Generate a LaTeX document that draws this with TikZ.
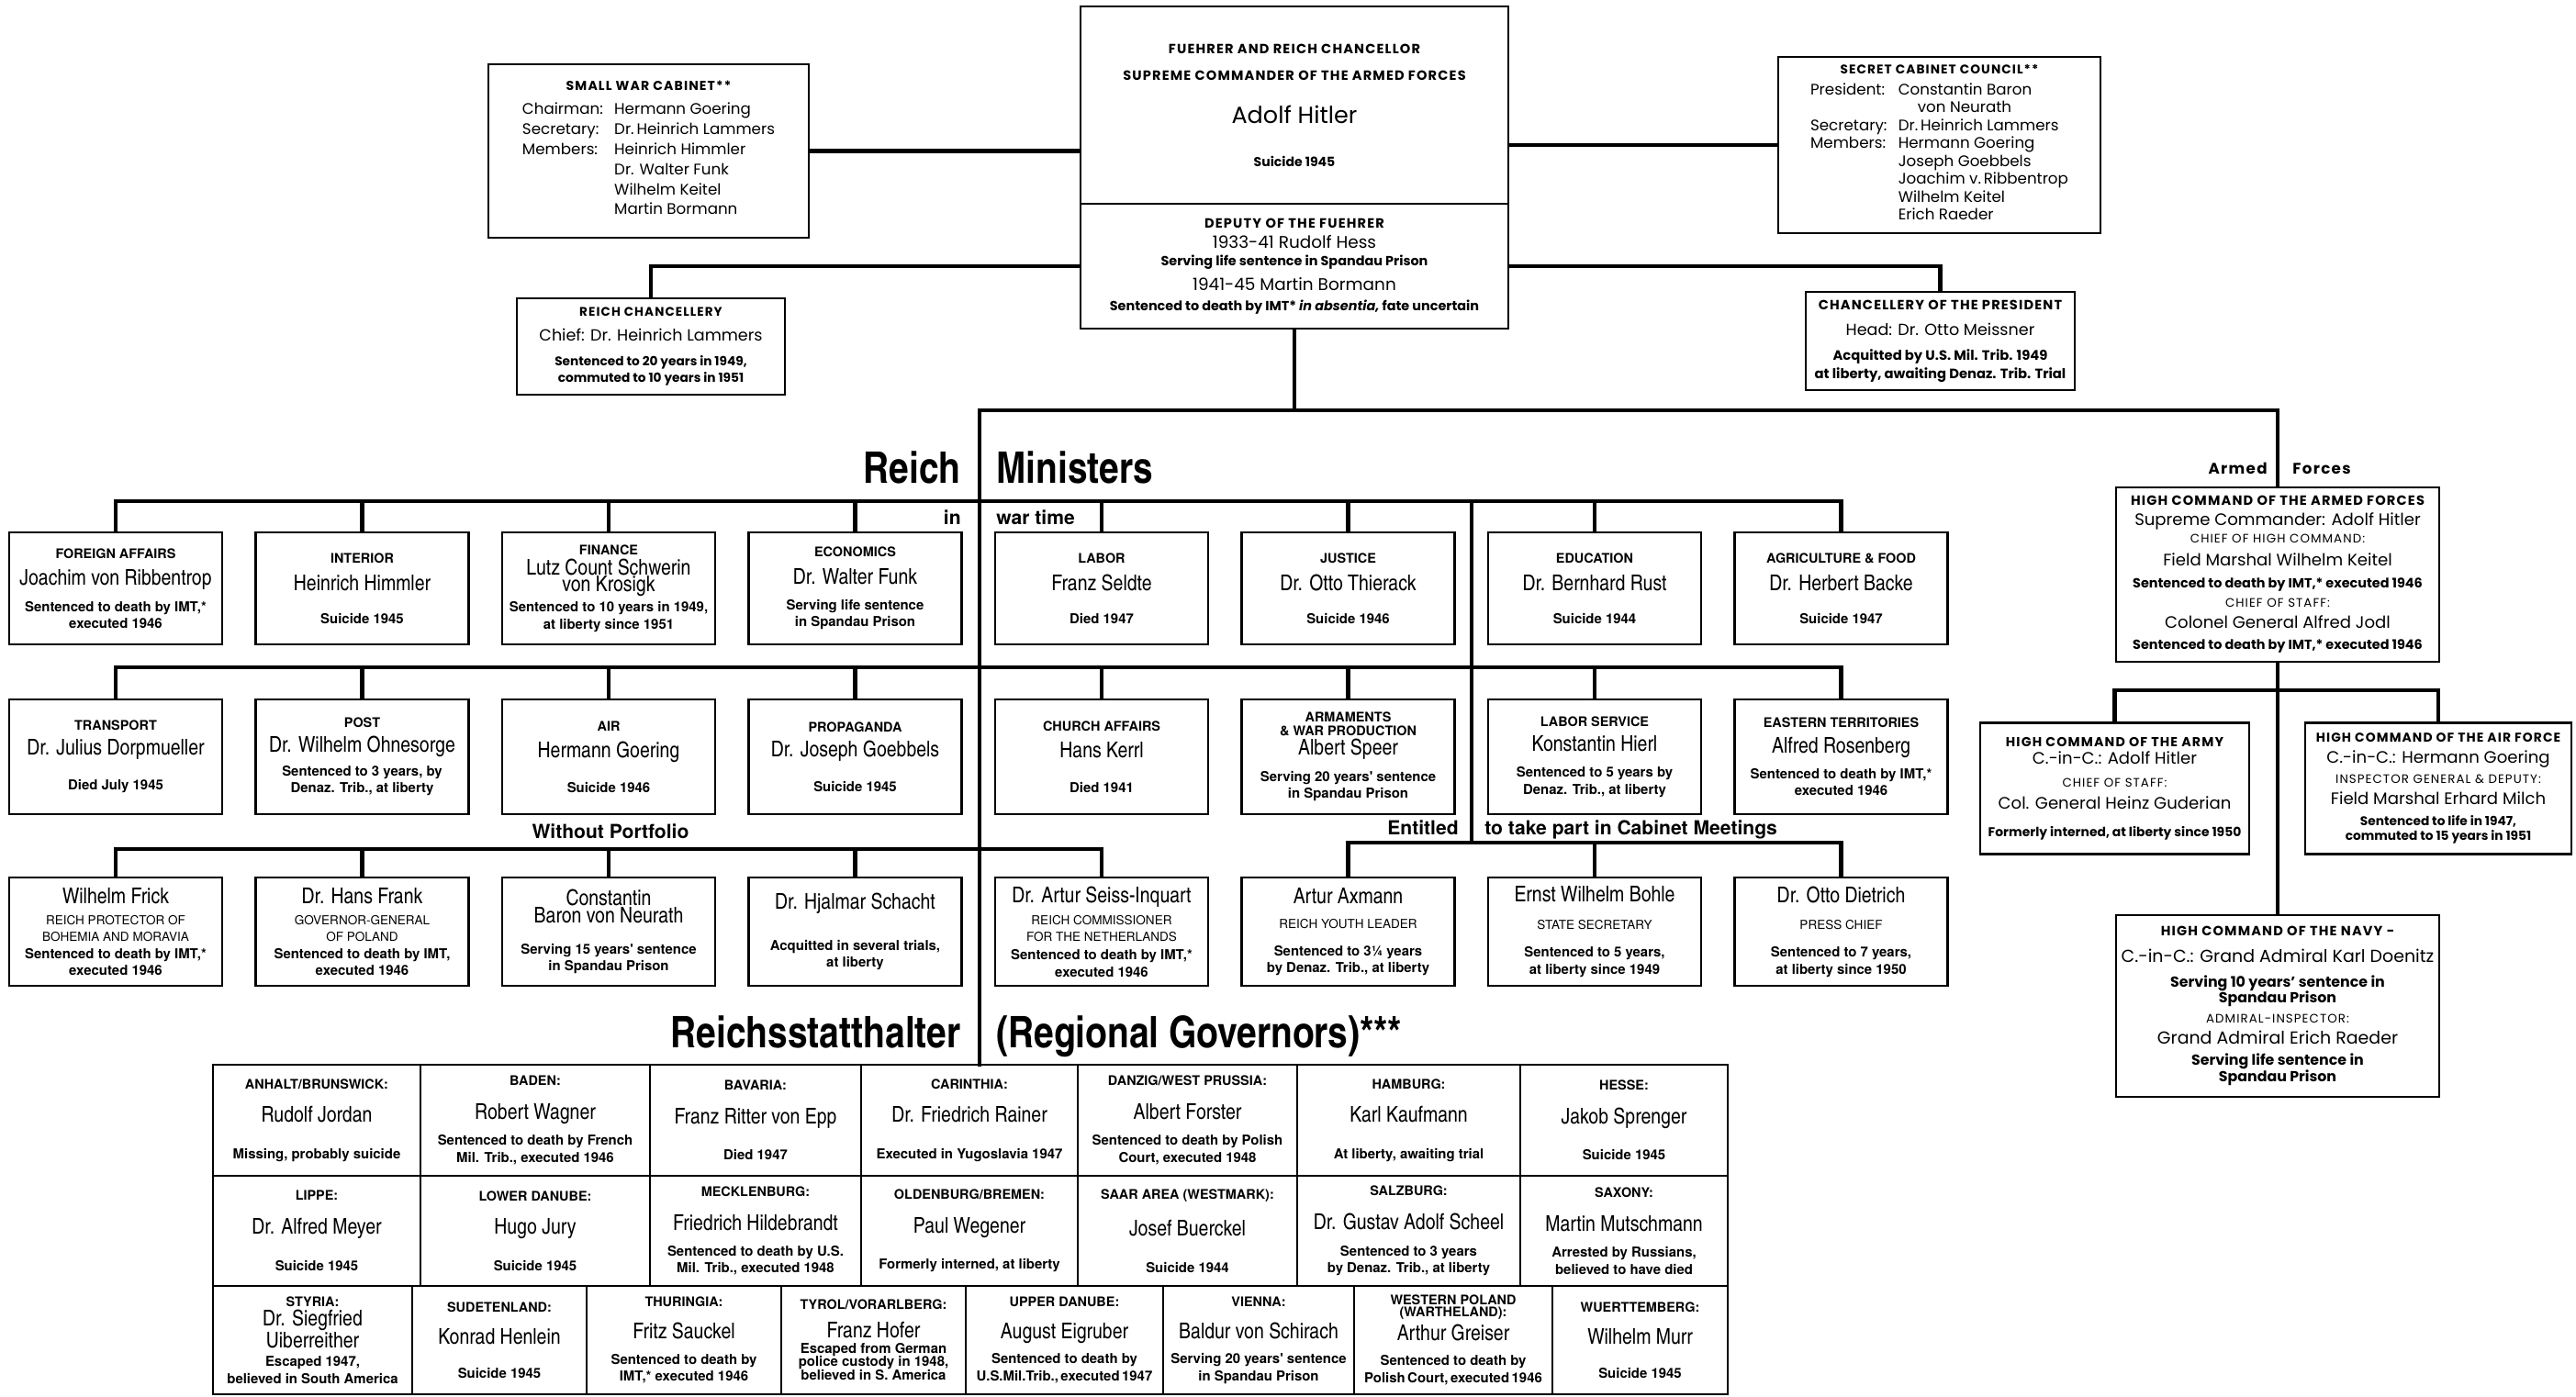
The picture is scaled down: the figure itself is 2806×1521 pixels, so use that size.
\documentclass[tikz,border=0pt]{standalone}
\usepackage{fontspec}
\setmainfont{Poppins}
\newfontfamily\spaced{Poppins}[LetterSpace=8]
\newfontfamily\heros{TeX Gyre Heros}
\newfontfamily\cnd{texgyreheroscn}[Extension=.otf,UprightFont=*-regular,BoldFont=*-bold]

\newcommand{\ahead}[2][8.3]{{\spaced\bfseries\fontsize{#1}{12}\selectfont #2}}
\newcommand{\aname}[2][10.3]{{\fontsize{#1}{12}\selectfont #2}}
\newcommand{\anote}[2][8.2]{{\bfseries\fontsize{#1}{12}\selectfont #2}}
\newcommand{\acaps}[2][7.6]{{\spaced\fontsize{#1}{12}\selectfont #2}}
\newcommand{\mhead}[1]{{\heros\bfseries\fontsize{8.2}{10.5}\selectfont #1}}
\newcommand{\mname}[1]{{\cnd\fontsize{13.5}{10.5}\selectfont #1}}
\newcommand{\mnote}[1]{{\heros\bfseries\fontsize{8.5}{10.5}\selectfont #1}}
\newcommand{\mcaps}[1]{{\heros\fontsize{7.7}{10.5}\selectfont #1}}

\tikzset{
  box/.style={draw, line width=1.2pt, inner sep=0pt, align=center},
  link/.style={line width=2.4pt, line cap=rect},
  topbox/.style={box, font=\fontsize{8}{12}\selectfont},
  minister/.style={box, minimum width=46.4mm, minimum height=#1, font=\heros\fontsize{8}{10.5}\selectfont},
  gov/.style={draw, line width=1.3pt, inner sep=0pt, align=center, minimum height=#1, font=\heros\fontsize{8}{10.5}\selectfont},
  bigtitle/.style={font=\cnd\bfseries\fontsize{27}{29}\selectfont, inner sep=0pt},
  subtitle/.style={font=\heros\bfseries\fontsize{12}{14}\selectfont, inner sep=0pt},
  armlabel/.style={font=\spaced\bfseries\fontsize{9.5}{12}\selectfont, inner sep=0pt}
}

\begin{document}
\begin{tikzpicture}[x=0.2mm, y=-0.2mm]
\useasboundingbox (0,0) rectangle (2806,1521);

\node[topbox, minimum width=93.2mm, minimum height=43mm] (fuehrer) at (1410,114.5) {\ahead{FUEHRER AND REICH CHANCELLOR}\\[4.5pt]\ahead{SUPREME COMMANDER OF THE ARMED FORCES}\\[14.7pt]\aname[14.5]{Adolf Hitler}\\[14.7pt]\anote[8]{Suicide 1945}};
\node[topbox, minimum width=93.2mm, minimum height=27.2mm] (deputy) at (1410,290) {\ahead{DEPUTY OF THE FUEHRER}\\[0.2pt]\aname[10.5]{1933-41 Rudolf Hess}\\[-0.8pt]\anote{Serving life sentence in Spandau Prison}\\[3.3pt]\aname[10.5]{1941-45 Martin Bormann}\\[0.2pt]\anote{Sentenced to death by IMT* \textit{in absentia,} fate uncertain}};

\node[topbox, minimum width=69.8mm, minimum height=37.8mm] (swc) at (706.5,164.5) {\ahead[8]{SMALL WAR CABINET**}\\[2.8pt]
  {\fontsize{9.5}{12.4}\selectfont\begin{tabular}[t]{@{}l@{\hspace{7pt}}l@{}}
  Chairman: & Hermann Goering\\
  Secretary: & Dr.\,Heinrich Lammers\\
  Members: & Heinrich Himmler\\
   & Dr. Walter Funk\\
   & Wilhelm Keitel\\
   & Martin Bormann
  \end{tabular}}};
\node[topbox, minimum width=70.2mm, minimum height=38.4mm] (scc) at (2112.5,158) {\ahead[7.8]{SECRET CABINET COUNCIL**}\\[1pt]
  {\fontsize{9.5}{11.1}\selectfont\begin{tabular}[t]{@{}l@{\hspace{7pt}}l@{}}
  President: & Constantin Baron\\
   & \hspace*{12pt}von Neurath\\
  Secretary: & Dr.\,Heinrich Lammers\\
  Members: & Hermann Goering\\
   & Joseph Goebbels\\
   & Joachim v.\,Ribbentrop\\
   & Wilhelm Keitel\\
   & Erich Raeder
  \end{tabular}}};
\node[topbox, minimum width=58.4mm, minimum height=21mm] (chancellery) at (709,377.5) {\ahead[7.7]{REICH CHANCELLERY}\\[3.3pt]\aname[10]{Chief: Dr. Heinrich Lammers}\\[3.3pt]\anote[7.8]{Sentenced to 20 years in 1949,}\\[-1.8pt]\anote[7.8]{commuted to 10 years in 1951}};
\node[topbox, minimum width=58.6mm, minimum height=21.4mm] (presidency) at (2113.5,371.5) {\ahead{CHANCELLERY OF THE PRESIDENT}\\[4.3pt]\aname[10]{Head: Dr. Otto Meissner}\\[3.3pt]\anote[8.4]{Acquitted by U.S. Mil. Trib. 1949}\\[-0.8pt]\anote[8.4]{at liberty, awaiting Denaz. Trib. Trial}};

\draw[link] (swc.east) -- (swc.east -| fuehrer.west);
\draw[link] (scc.west) -- (scc.west -| fuehrer.east);
\draw[link] (chancellery.north) |- (deputy.west);
\draw[link] (presidency.north) |- (deputy.east);

\coordinate (trunk) at (0,447);
\coordinate (bus1) at (0,546);
\coordinate (bus2) at (0,727);
\coordinate (bus3) at (0,925);
\coordinate (bus4) at (0,918);
\coordinate (afbus) at (0,752);
\coordinate (cab) at (1603,0);
\coordinate (govtop) at (1067,1160);

\node[bigtitle, anchor=base east] (reich) at (1047,526) {Reich};
\node[bigtitle, anchor=base west] (ministers) at (1085,526) {Ministers};
\node[subtitle, anchor=base east] (inlbl) at (1047,571) {in};
\node[subtitle, anchor=base west] (wartime) at (1085,571) {war time};
\node[subtitle, anchor=base] (portfolio) at (665,913) {Without Portfolio};
\node[subtitle, anchor=base east] (entitled) at (1589,909) {Entitled};
\node[subtitle, anchor=base west] (cabinet) at (1617,909) {to take part in Cabinet Meetings};
\node[bigtitle, anchor=base east] (statthalter) at (1047,1141) {Reichsstatthalter};
\node[bigtitle, anchor=base west] (regional) at (1085,1141) {(Regional Governors)***};

\node[minister=24.4mm] (foreign) at (126,641) {\mhead{FOREIGN AFFAIRS}\\[6.5pt]\mname{Joachim von Ribbentrop}\\[5.5pt]\mnote{Sentenced to death by IMT,*}\\\mnote{executed 1946}};
\node[minister=24.4mm] (interior) at (394.5,641) {\mhead{INTERIOR}\\[6.5pt]\mname{Heinrich Himmler}\\[10pt]\mnote{Suicide 1945}};
\node[minister=24.4mm] (finance) at (663,641) {\mhead{FINANCE}\\[2pt]\mname{Lutz Count Schwerin}\\\mname{von Krosigk}\\[2pt]\mnote{Sentenced to 10 years in 1949,}\\\mnote{at liberty since 1951}};
\node[minister=24.4mm] (economics) at (931.5,641) {\mhead{ECONOMICS}\\[6.5pt]\mname{Dr. Walter Funk}\\[5.5pt]\mnote{Serving life sentence}\\\mnote{in Spandau Prison}};
\node[minister=24.4mm] (labor) at (1200,641) {\mhead{LABOR}\\[6.5pt]\mname{Franz Seldte}\\[10pt]\mnote{Died 1947}};
\node[minister=24.4mm] (justice) at (1468.5,641) {\mhead{JUSTICE}\\[6.5pt]\mname{Dr. Otto Thierack}\\[10pt]\mnote{Suicide 1946}};
\node[minister=24.4mm] (education) at (1737,641) {\mhead{EDUCATION}\\[6.5pt]\mname{Dr. Bernhard Rust}\\[10pt]\mnote{Suicide 1944}};
\node[minister=24.4mm] (agriculture) at (2005.5,641) {\mhead{AGRICULTURE \& FOOD}\\[6.5pt]\mname{Dr. Herbert Backe}\\[10pt]\mnote{Suicide 1947}};

\node[minister=25mm] (transport) at (126,824.5) {\mhead{TRANSPORT}\\[5pt]\mname{Dr. Julius Dorpmueller}\\[11pt]\mnote{Died July 1945}};
\node[minister=25mm] (post) at (394.5,824.5) {\mhead{POST}\\[5pt]\mname{Dr. Wilhelm Ohnesorge}\\[4pt]\mnote{Sentenced to 3 years, by}\\\mnote{Denaz. Trib., at liberty}};
\node[minister=25mm] (air) at (663,824.5) {\mhead{AIR}\\[6pt]\mname{Hermann Goering}\\[11pt]\mnote{Suicide 1946}};
\node[minister=25mm] (propaganda) at (931.5,824.5) {\mhead{PROPAGANDA}\\[5pt]\mname{Dr. Joseph Goebbels}\\[11pt]\mnote{Suicide 1945}};
\node[minister=25mm] (church) at (1200,824.5) {\mhead{CHURCH AFFAIRS}\\[6pt]\mname{Hans Kerrl}\\[11pt]\mnote{Died 1941}};
\node[minister=25mm] (armament) at (1468.5,824.5) {\mhead{ARMAMENTS}\\[-2pt]\mhead{\& WAR PRODUCTION}\\[1.5pt]\mname{Albert Speer}\\[5.5pt]\mnote{Serving 20 years' sentence}\\\mnote{in Spandau Prison}};
\node[minister=25mm] (laborsvc) at (1737,824.5) {\mhead{LABOR SERVICE}\\[5pt]\mname{Konstantin Hierl}\\[5.5pt]\mnote{Sentenced to 5 years by}\\\mnote{Denaz. Trib., at liberty}};
\node[minister=25mm] (eastern) at (2005.5,824.5) {\mhead{EASTERN TERRITORIES}\\[5pt]\mname{Alfred Rosenberg}\\[5.5pt]\mnote{Sentenced to death by IMT,*}\\\mnote{executed 1946}};

\node[minister=23.6mm] (frick) at (126,1015) {\mname{Wilhelm Frick}\\[2.5pt]\mcaps{REICH PROTECTOR OF}\\\mcaps{BOHEMIA AND MORAVIA}\\\mnote{Sentenced to death by IMT,*}\\\mnote{executed 1946}};
\node[minister=23.6mm] (frank) at (394.5,1015) {\mname{Dr. Hans Frank}\\[2.5pt]\mcaps{GOVERNOR-GENERAL}\\\mcaps{OF POLAND}\\\mnote{Sentenced to death by IMT,}\\\mnote{executed 1946}};
\node[minister=23.6mm] (neurath) at (663,1015) {\mname{Constantin}\\\mname{Baron von Neurath}\\[9pt]\mnote{Serving 15 years' sentence}\\\mnote{in Spandau Prison}};
\node[minister=23.6mm] (schacht) at (931.5,1015) {\mname{Dr. Hjalmar Schacht}\\[15pt]\mnote{Acquitted in several trials,}\\\mnote{at liberty}};
\node[minister=23.6mm] (seiss) at (1200,1015) {\mname{Dr. Artur Seiss-Inquart}\\[3pt]\mcaps{REICH COMMISSIONER}\\\mcaps{FOR THE NETHERLANDS}\\[1pt]\mnote{Sentenced to death by IMT,*}\\\mnote{executed 1946}};
\node[minister=23.6mm] (axmann) at (1468.5,1015) {\mname{Artur Axmann}\\[5pt]\mcaps{REICH YOUTH LEADER}\\[6.5pt]\mnote{Sentenced to 3¼ years}\\\mnote{by Denaz. Trib., at liberty}};
\node[minister=23.6mm] (bohle) at (1737,1015) {\mname{Ernst Wilhelm Bohle}\\[6.5pt]\mcaps{STATE SECRETARY}\\[6.5pt]\mnote{Sentenced to 5 years,}\\\mnote{at liberty since 1949}};
\node[minister=23.6mm] (dietrich) at (2005.5,1015) {\mname{Dr. Otto Dietrich}\\[6.5pt]\mcaps{PRESS CHIEF}\\[6.5pt]\mnote{Sentenced to 7 years,}\\\mnote{at liberty since 1950}};

\node[armlabel, anchor=base east] (armedlbl) at (2470,516) {Armed};
\node[armlabel, anchor=base west] (forceslbl) at (2497,516) {Forces};
\node[topbox, minimum width=70.4mm, minimum height=38mm] (hcaf) at (2481,626) {\ahead{HIGH COMMAND OF THE ARMED FORCES}\\[0.2pt]\aname{Supreme Commander: Adolf Hitler}\\[-0.8pt]\acaps{CHIEF OF HIGH COMMAND:}\\[2.3pt]\aname{Field Marshal Wilhelm Keitel}\\[1.2pt]\anote{Sentenced to death by IMT,* executed 1946}\\[0.2pt]\acaps{CHIEF OF STAFF:}\\[1.2pt]\aname{Colonel General Alfred Jodl}\\[1.2pt]\anote{Sentenced to death by IMT,* executed 1946}};
\node[topbox, minimum width=58.6mm, minimum height=28.6mm] (army) at (2303.5,859) {\ahead[8.1]{HIGH COMMAND OF THE ARMY}\\[-0.8pt]\aname{C.-in-C.: Adolf Hitler}\\[2.3pt]\acaps{CHIEF OF STAFF:}\\[1.2pt]\aname{Col. General Heinz Guderian}\\[5.3pt]\anote[7.9]{Formerly interned, at liberty since 1950}};
\node[topbox, minimum width=58mm, minimum height=28.6mm] (airforce) at (2656,859) {\ahead[7.9]{HIGH COMMAND OF THE AIR FORCE}\\[1.2pt]\aname{C.-in-C.: Hermann Goering}\\[0.2pt]\acaps{INSPECTOR GENERAL \& DEPUTY:}\\[1.2pt]\aname{Field Marshal Erhard Milch}\\[1.2pt]\anote[7.8]{Sentenced to life in 1947,}\\[-2.8pt]\anote[7.8]{commuted to 15 years in 1951}};
\node[topbox, minimum width=70.4mm, minimum height=39.6mm] (navy) at (2481,1096) {\ahead{HIGH COMMAND OF THE NAVY -}\\[4.3pt]\aname[10.8]{C.-in-C.: Grand Admiral Karl Doenitz}\\[3.3pt]\anote[9]{Serving 10 years' sentence in}\\[-1.8pt]\anote[9]{Spandau Prison}\\[0.2pt]\acaps{ADMIRAL-INSPECTOR:}\\[1.2pt]\aname[10.8]{Grand Admiral Erich Raeder}\\[1.2pt]\anote[9]{Serving life sentence in}\\[-1.8pt]\anote[9]{Spandau Prison}};

\node[gov=24.2mm, minimum width=45.2mm] (anhalt) at (345,1220.5) {\mhead{ANHALT/BRUNSWICK:}\\[10.5pt]\mname{Rudolf Jordan}\\[12pt]\mnote{Missing, probably suicide}};
\node[gov=24.2mm, minimum width=50mm] (baden) at (583,1220.5) {\mhead{BADEN:}\\[10.5pt]\mname{Robert Wagner}\\[5.5pt]\mnote{Sentenced to death by French}\\\mnote{Mil. Trib., executed 1946}};
\node[gov=24.2mm, minimum width=46mm] (bavaria) at (823,1220.5) {\mhead{BAVARIA:}\\[10.5pt]\mname{Franz Ritter von Epp}\\[12pt]\mnote{Died 1947}};
\node[gov=24.2mm, minimum width=47.2mm] (carinthia) at (1056,1220.5) {\mhead{CARINTHIA:}\\[10.5pt]\mname{Dr. Friedrich Rainer}\\[12pt]\mnote{Executed in Yugoslavia 1947}};
\node[gov=24.2mm, minimum width=47.8mm] (danzig) at (1293.5,1220.5) {\mhead{DANZIG/WEST PRUSSIA:}\\[10.5pt]\mname{Albert Forster}\\[5.5pt]\mnote{Sentenced to death by Polish}\\\mnote{Court, executed 1948}};
\node[gov=24.2mm, minimum width=48.6mm] (hamburg) at (1534.5,1220.5) {\mhead{HAMBURG:}\\[10.5pt]\mname{Karl Kaufmann}\\[12pt]\mnote{At liberty, awaiting trial}};
\node[gov=24.2mm, minimum width=45.2mm] (hesse) at (1769,1220.5) {\mhead{HESSE:}\\[10.5pt]\mname{Jakob Sprenger}\\[12pt]\mnote{Suicide 1945}};

\node[gov=24mm, minimum width=45.2mm] (lippe) at (345,1341) {\mhead{LIPPE:}\\[10.5pt]\mname{Dr. Alfred Meyer}\\[12pt]\mnote{Suicide 1945}};
\node[gov=24mm, minimum width=50mm] (lowdanube) at (583,1341) {\mhead{LOWER DANUBE:}\\[10.5pt]\mname{Hugo Jury}\\[12pt]\mnote{Suicide 1945}};
\node[gov=24mm, minimum width=46mm] (mecklenburg) at (823,1341) {\mhead{MECKLENBURG:}\\[10.5pt]\mname{Friedrich Hildebrandt}\\[5.5pt]\mnote{Sentenced to death by U.S.}\\\mnote{Mil. Trib., executed 1948}};
\node[gov=24mm, minimum width=47.2mm] (oldenburg) at (1056,1341) {\mhead{OLDENBURG/BREMEN:}\\[10.5pt]\mname{Paul Wegener}\\[12pt]\mnote{Formerly interned, at liberty}};
\node[gov=24mm, minimum width=47.8mm] (saar) at (1293.5,1341) {\mhead{SAAR AREA (WESTMARK):}\\[10.5pt]\mname{Josef Buerckel}\\[12pt]\mnote{Suicide 1944}};
\node[gov=24mm, minimum width=48.6mm] (salzburg) at (1534.5,1341) {\mhead{SALZBURG:}\\[10.5pt]\mname{Dr. Gustav Adolf Scheel}\\[5.5pt]\mnote{Sentenced to 3 years}\\\mnote{by Denaz. Trib., at liberty}};
\node[gov=24mm, minimum width=45.2mm] (saxony) at (1769,1341) {\mhead{SAXONY:}\\[10.5pt]\mname{Martin Mutschmann}\\[5.5pt]\mnote{Arrested by Russians,}\\\mnote{believed to have died}};

\node[gov=23.6mm, minimum width=43.4mm] (styria) at (340.5,1460) {\mhead{STYRIA:}\\[1.5pt]\mname{Dr. Siegfried}\\\mname{Uiberreither}\\[1pt]\mnote{Escaped 1947,}\\\mnote{believed in South America}};
\node[gov=23.6mm, minimum width=38mm] (sudeten) at (544,1460) {\mhead{SUDETENLAND:}\\[9.5pt]\mname{Konrad Henlein}\\[10.5pt]\mnote{Suicide 1945}};
\node[gov=23.6mm, minimum width=42.4mm] (thuringia) at (745,1460) {\mhead{THURINGIA:}\\[9.5pt]\mname{Fritz Sauckel}\\[5pt]\mnote{Sentenced to death by}\\\mnote{IMT,* executed 1946}};
\node[gov=23.6mm, minimum width=40.2mm] (tyrol) at (951.5,1460) {\mhead{TYROL/VORARLBERG:}\\[7pt]\mname{Franz Hofer}\\[-1pt]\mnote{Escaped from German}\\[-2pt]\mnote{police custody in 1948,}\\[-2pt]\mnote{believed in S. America}};
\node[gov=23.6mm, minimum width=43mm] (updanube) at (1159.5,1460) {\mhead{UPPER DANUBE:}\\[9.5pt]\mname{August Eigruber}\\[5pt]\mnote{Sentenced to death by}\\\mnote{U.S.Mil.Trib.,\,executed\,1947}};
\node[gov=23.6mm, minimum width=41.6mm] (vienna) at (1371,1460) {\mhead{VIENNA:}\\[9.5pt]\mname{Baldur von Schirach}\\[5pt]\mnote{Serving 20 years' sentence}\\\mnote{in Spandau Prison}};
\node[gov=23.6mm, minimum width=43.2mm] (wartheland) at (1583,1460) {\mhead{WESTERN POLAND}\\[-3pt]\mhead{(WARTHELAND):}\\[2pt]\mname{Arthur Greiser}\\[5pt]\mnote{Sentenced to death by}\\\mnote{Polish\,Court,\,executed\,1946}};
\node[gov=23.6mm, minimum width=38.2mm] (wuerttemberg) at (1786.5,1460) {\mhead{WUERTTEMBERG:}\\[9.5pt]\mname{Wilhelm Murr}\\[10.5pt]\mnote{Suicide 1945}};

\draw[link] (deputy.south) -- (deputy.south |- trunk);
\draw[link] (govtop) |- (hcaf.north |- trunk) -- (hcaf.north);
\draw[link] (foreign.north) |- (agriculture.north |- bus1) -- (agriculture.north);
\draw[link] (interior.north) -- (interior.north |- bus1);
\draw[link] (finance.north) -- (finance.north |- bus1);
\draw[link] (economics.north) -- (economics.north |- bus1);
\draw[link] (labor.north) -- (labor.north |- bus1);
\draw[link] (justice.north) -- (justice.north |- bus1);
\draw[link] (education.north) -- (education.north |- bus1);
\draw[link] (transport.north) |- (eastern.north |- bus2) -- (eastern.north);
\draw[link] (post.north) -- (post.north |- bus2);
\draw[link] (air.north) -- (air.north |- bus2);
\draw[link] (propaganda.north) -- (propaganda.north |- bus2);
\draw[link] (church.north) -- (church.north |- bus2);
\draw[link] (armament.north) -- (armament.north |- bus2);
\draw[link] (laborsvc.north) -- (laborsvc.north |- bus2);
\draw[link] (frick.north) |- (seiss.north |- bus3) -- (seiss.north);
\draw[link] (frank.north) -- (frank.north |- bus3);
\draw[link] (neurath.north) -- (neurath.north |- bus3);
\draw[link] (schacht.north) -- (schacht.north |- bus3);
\draw[link] (cab |- bus1) -- (cab |- bus4);
\draw[link] (axmann.north) |- (dietrich.north |- bus4) -- (dietrich.north);
\draw[link] (bohle.north) -- (bohle.north |- bus4);
\draw[link] (hcaf.south) -- (navy.north);
\draw[link] (army.north) |- (airforce.north |- afbus) -- (airforce.north);
\end{tikzpicture}
\end{document}
